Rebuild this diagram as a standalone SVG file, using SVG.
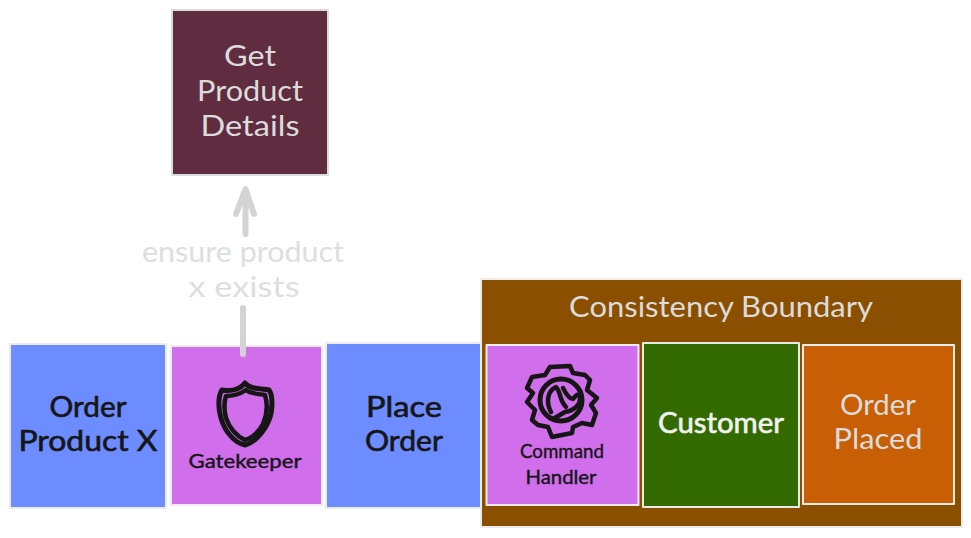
<svg xmlns="http://www.w3.org/2000/svg" width="971" height="538" viewBox="0 0 971 538">
<style>
text{font-family:"Lato","Noto Sans",sans-serif;text-anchor:middle;font-size:28px}
.k{fill:#161616;stroke:#161616;stroke-width:.6}.l{fill:#dcdcdc}.w{fill:#f2f2f2;stroke:#f2f2f2;stroke-width:.6}.s{font-size:19px;stroke-width:.4}
.e{fill:#dedede}
.b{stroke-width:2;stroke-linejoin:round}
.line{fill:none;stroke:#d4d4d4;stroke-width:6;stroke-linecap:round;stroke-linejoin:round}
.ic{fill:none;stroke:#161616;stroke-linecap:round;stroke-linejoin:round}
</style>
<rect width="971" height="538" fill="#fff"/>
<g id="get-product-details">
<rect class="b" x="172" y="10" width="156" height="165" fill="#5f2d3f" stroke="#dcdcdc"/>
<text class="l" x="250" y="66" textLength="52" lengthAdjust="spacingAndGlyphs">Get</text>
<text class="l" x="250" y="101" textLength="106" lengthAdjust="spacingAndGlyphs">Product</text>
<text class="l" x="250" y="136" textLength="99" lengthAdjust="spacingAndGlyphs">Details</text>
</g>
<g id="order-product-x">
<rect class="b" x="10" y="344" width="156" height="164" fill="#6c8cff" stroke="#ececec"/>
<text class="k" x="88" y="417" textLength="77" lengthAdjust="spacingAndGlyphs">Order</text>
<text class="k" x="88" y="451" textLength="139" lengthAdjust="spacingAndGlyphs">Product  X</text>
</g>
<g id="gatekeeper">
<rect class="b" x="171" y="346" width="151" height="159" fill="#d06eeb" stroke="#ececec"/>
<path class="ic" stroke-width="5" d="M222 390C228 391 239 391 245 383C250 390 262 388 269 390C273 395 273 410 269 420C264 432 254 443 245 445C234 443 224 430 221 418C218 408 218 396 222 390Z"/>
<path class="ic" stroke-width="4.500" d="M226 396C232 396 240 394 246 390C251 394 260 394 265 395C268 405 267 415 263 424C258 433 252 438 245 440C236 436 229 427 226 418C224 410 224 402 226 396Z"/>
<text class="k s" x="245" y="468" textLength="113" lengthAdjust="spacingAndGlyphs">Gatekeeper</text>
</g>
<g id="place-order">
<rect class="b" x="326" y="343" width="156" height="165" fill="#6c8cff" stroke="#ececec"/>
<text class="k" x="404" y="417" textLength="76" lengthAdjust="spacingAndGlyphs">Place</text>
<text class="k" x="404" y="451" textLength="78" lengthAdjust="spacingAndGlyphs">Order</text>
</g>
<g id="consistency-boundary">
<rect class="b" x="481" y="279" width="481" height="248" fill="#8b4f00" stroke="#ececec"/>
<text class="l" x="721" y="317" textLength="304" lengthAdjust="spacingAndGlyphs">Consistency  Boundary</text>
</g>
<g id="command-handler">
<rect class="b" x="486.500" y="345" width="152" height="160" fill="#d06eeb" stroke="#ececec"/>
<path class="ic" stroke-width="4.500" d="M550 367L570 366L573 373L585 375L590 380L587 390L597 398L591 405L596 413L592 425L582 423L573 427L572 433L552 437L548 427L538 425L532 420L535 410L527 402L533 393L527 388L532 377L545 375Z"/>
<circle class="ic" stroke-width="5" cx="561" cy="400" r="21"/>
<path class="ic" stroke-width="4.500" d="M551 412C546 403 547 391 556 387C561 392 559 400 566 407M563 388C566 394 569 399 573 399C576 396 577 392 580 397C581 405 573 411 565 412L553 419"/>
<text class="k s" x="562" y="458" textLength="84" lengthAdjust="spacingAndGlyphs">Command</text>
<text class="k s" x="561" y="484" textLength="71" lengthAdjust="spacingAndGlyphs">Handler</text>
</g>
<g id="customer">
<rect class="b" x="643" y="343" width="156" height="164" fill="#336b00" stroke="#e8e8e8"/>
<text class="w" x="721" y="433" textLength="126" lengthAdjust="spacingAndGlyphs">Customer</text>
</g>
<g id="order-placed">
<rect class="b" x="803" y="345" width="151" height="159" fill="#c85f04" stroke="#ececec"/>
<text class="l" x="878" y="415" textLength="76" lengthAdjust="spacingAndGlyphs">Order</text>
<text class="l" x="878" y="449" textLength="89" lengthAdjust="spacingAndGlyphs">Placed</text>
</g>
<g id="connectors">
<path class="line" d="M245.500 234V190M236 214L245.500 189L254 214"/>
<path class="line" d="M243 308V354"/>
<text class="e" x="243" y="262" textLength="202" lengthAdjust="spacingAndGlyphs">ensure product</text>
<text class="e" x="244" y="297" textLength="111" lengthAdjust="spacingAndGlyphs">x exists</text>
</g>
</svg>
